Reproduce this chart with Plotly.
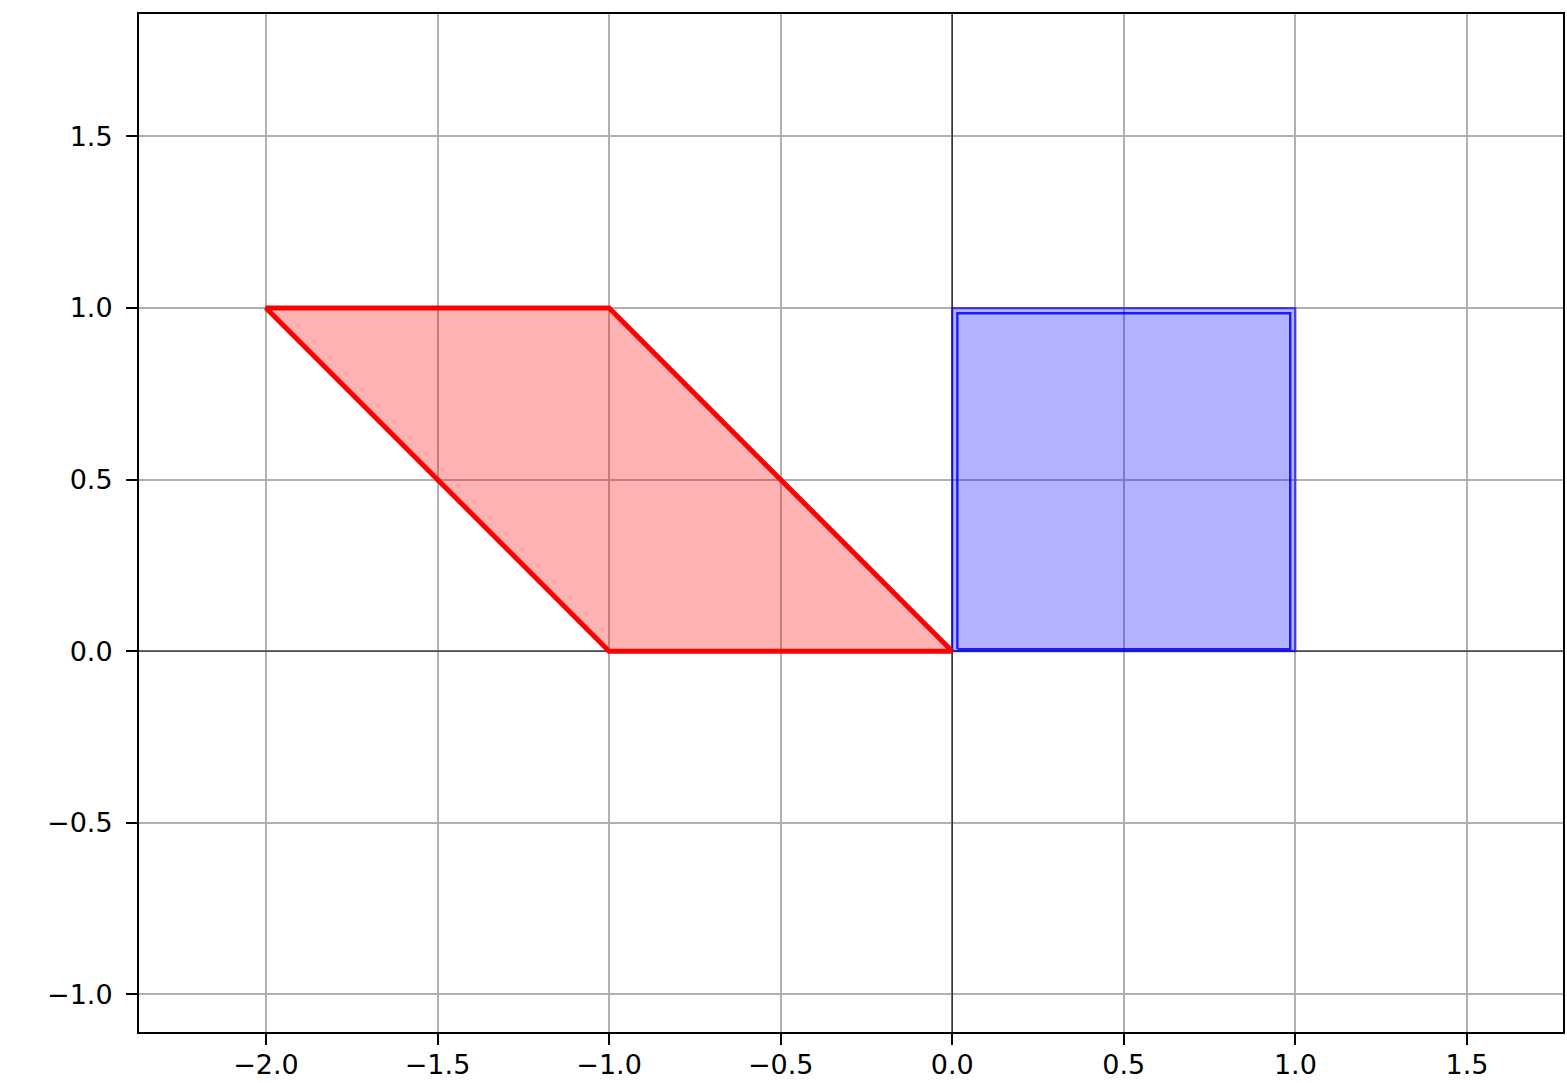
import plotly.graph_objects as go

# Data
square_x = [0, 1, 1, 0, 0]
square_y = [0, 0, 1, 1, 0]
para_x = [0, -1, -2, -1, 0]
para_y = [0, 0, 1, 1, 0]

x_ticks = [-2.0, -1.5, -1.0, -0.5, 0.0, 0.5, 1.0, 1.5]
y_ticks = [-1.0, -0.5, 0.0, 0.5, 1.0, 1.5]
x_range = [-2.37, 1.78]
y_range = [-1.11, 1.857]

def fmt(v):
    s = f"{abs(v):.1f}"
    return ("\u2212" + s) if v < 0 else s

# inner outline of the square drawn slightly inside the outer one
inset_side = 0.015
inset_bottom = 0.006
xmin, xmax = min(square_x), max(square_x)
ymin, ymax = min(square_y), max(square_y)
inner_x = [xmin + inset_side if x == xmin else xmax - inset_side for x in square_x]
inner_y = [ymin + inset_bottom if y == ymin else ymax - inset_side for y in square_y]

fig = go.Figure()

# axis lines through origin (axhline / axvline)
fig.add_trace(go.Scatter(x=x_range, y=[0, 0], mode="lines",
                         line=dict(color="black", width=1.4), opacity=0.75,
                         hoverinfo="skip", showlegend=False))
fig.add_trace(go.Scatter(x=[0, 0], y=y_range, mode="lines",
                         line=dict(color="black", width=1.4), opacity=0.75,
                         hoverinfo="skip", showlegend=False))

# square (blue)
fig.add_trace(go.Scatter(x=square_x, y=square_y, mode="lines", fill="toself",
                         fillcolor="rgba(0,0,255,0.3)",
                         line=dict(color="rgba(0,0,255,0.6)", width=2.2),
                         showlegend=False))
fig.add_trace(go.Scatter(x=inner_x, y=inner_y, mode="lines",
                         line=dict(color="rgba(0,0,255,0.85)", width=2.4),
                         showlegend=False))

# parallelogram (red)
fig.add_trace(go.Scatter(x=para_x, y=para_y, mode="lines", fill="toself",
                         fillcolor="rgba(255,0,0,0.3)",
                         line=dict(color="red", width=5),
                         showlegend=False))

axis_common = dict(
    showgrid=True, gridcolor="#b0b0b0", gridwidth=1.5,
    zeroline=False, automargin=False,
    showline=True, linecolor="black", linewidth=2, mirror=True,
    ticks="outside", ticklen=11, tickwidth=2, tickcolor="black",
    tickfont=dict(family="DejaVu Sans", size=27, color="black"),
)

fig.update_layout(
    width=1567, height=1083,
    margin=dict(l=139, r=4, t=14, b=51),
    paper_bgcolor="white", plot_bgcolor="white",
    xaxis=dict(range=x_range, tickvals=x_ticks, ticklabelstandoff=-3,
               ticktext=[fmt(v) for v in x_ticks], **axis_common),
    yaxis=dict(range=y_range, tickvals=y_ticks, ticklabelstandoff=8,
               ticktext=[fmt(v) for v in y_ticks], **axis_common),
)

fig.write_html("out.html", config={"displayModeBar": False},
               post_script="document.body.style.margin='0px';document.body.style.overflow='hidden';")
